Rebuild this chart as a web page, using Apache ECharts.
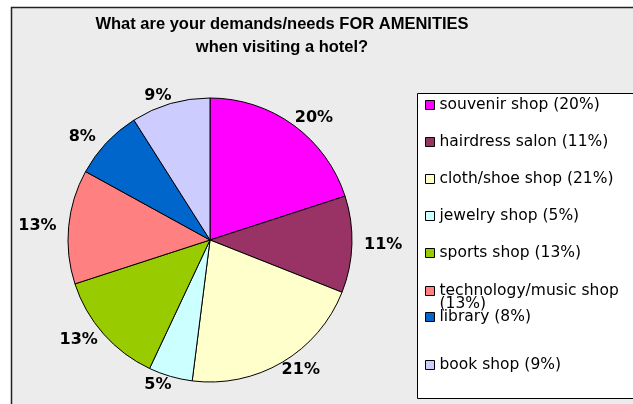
<!DOCTYPE html>
<html>
<head>
<meta charset="utf-8">
<script src="https://cdn.jsdelivr.net/npm/echarts@6/dist/echarts.min.js"></script>
<style>
  html, body { margin: 0; padding: 0; background: #ffffff; }
  #chart { width: 633px; height: 404px; }
</style>
</head>
<body>
<div id="chart"></div>
<script>
// Survey answers: share of respondents per amenity (percent)
const titleText = 'What are your demands/needs FOR AMENITIES\nwhen visiting a hotel?';
const categories = ['souvenir shop', 'hairdress salon', 'cloth/shoe shop', 'jewelry shop',
                    'sports shop', 'technology/music shop', 'library', 'book shop'];
const shares = [20, 11, 21, 5, 13, 13, 8, 9];
const sliceColors = ['#FF00FF', '#993366', '#FFFFCC', '#CCFFFF',
                     '#99CC00', '#FF8080', '#0066CC', '#CCCCFF'];

const TITLE_FONT = '"Liberation Sans", Arial, sans-serif';
const BODY_FONT = '"DejaVu Sans", Verdana, sans-serif';

const PIE_CX = 210, PIE_CY = 240, PIE_R = 142;
// labels sit on a slightly wide, flattened ring around the pie
const LABEL_KX = 1.05, LABEL_KY = 0.94;

const pieData = categories.map((name, i) => ({
  name: name,
  value: shares[i],
  itemStyle: { color: sliceColors[i] }
}));

const shareOf = {};
categories.forEach((c, i) => { shareOf[c] = shares[i]; });

// long names put the percentage on its own line, first line level with the swatch
function legendText(name) {
  const pct = '(' + shareOf[name] + '%)';
  return name.length > 16 ? '\n' + name + '\n' + pct : name + ' ' + pct;
}

const legendBase = {
  orient: 'vertical',
  left: 425,
  padding: 0,
  icon: 'rect',
  itemWidth: 9,
  itemHeight: 9,
  selectedMode: false,
  formatter: legendText,
  itemStyle: { borderColor: '#000', borderWidth: 1 },
  textStyle: { fontFamily: BODY_FONT, fontSize: 15.5, lineHeight: 15, color: '#000' }
};

function legendBlock(extra) {
  return Object.assign({}, legendBase, extra);
}

const chart = echarts.init(document.getElementById('chart'), null, { renderer: 'canvas' });

chart.setOption({
  animation: false,
  backgroundColor: '#ffffff',
  graphic: [
    {
      type: 'rect', z: -10, silent: true,
      shape: { x: 11.5, y: 7.5, width: 660, height: 420 },
      style: { fill: '#ececec', stroke: '#222', lineWidth: 1.5 }
    },
    {
      type: 'rect', z: -5, silent: true,
      shape: { x: 417.5, y: 93.5, width: 260, height: 305 },
      style: { fill: '#ffffff', stroke: '#000', lineWidth: 1 }
    }
  ],
  title: {
    text: titleText,
    left: 277,
    top: 8,
    textAlign: 'center',
    textStyle: { fontFamily: TITLE_FONT, fontSize: 16.5, fontWeight: 'bold', lineHeight: 23, color: '#000' }
  },
  legend: [
    legendBlock({ top: 97, itemGap: 21, data: categories.slice(0, 5) }),
    legendBlock({ top: 270, data: categories.slice(5, 6),
                  textStyle: Object.assign({}, legendBase.textStyle, { lineHeight: 13 }) }),
    legendBlock({ top: 309, itemGap: 32, data: categories.slice(6) })
  ],
  series: [{
    type: 'pie',
    center: [PIE_CX, PIE_CY],
    radius: PIE_R,
    startAngle: 90,
    clockwise: true,
    avoidLabelOverlap: false,
    itemStyle: { borderColor: '#000', borderWidth: 1 },
    emphasis: { disabled: true },
    label: {
      show: true,
      position: 'outside',
      formatter: '{c}%',
      fontFamily: BODY_FONT,
      fontSize: 16,
      fontWeight: 'bold',
      color: '#000'
    },
    labelLine: { show: false, length: 18, length2: 0 },
    labelLayout: function (p) {
      const r = p.labelRect;
      const ax = p.align === 'left' ? r.x : p.align === 'right' ? r.x + r.width : r.x + r.width / 2;
      const ay = r.y + r.height / 2;
      return {
        x: PIE_CX + (ax - PIE_CX) * LABEL_KX,
        y: PIE_CY + (ay - PIE_CY) * LABEL_KY,
        align: 'center',
        verticalAlign: 'middle'
      };
    },
    data: pieData
  }]
});
</script>
</body>
</html>
